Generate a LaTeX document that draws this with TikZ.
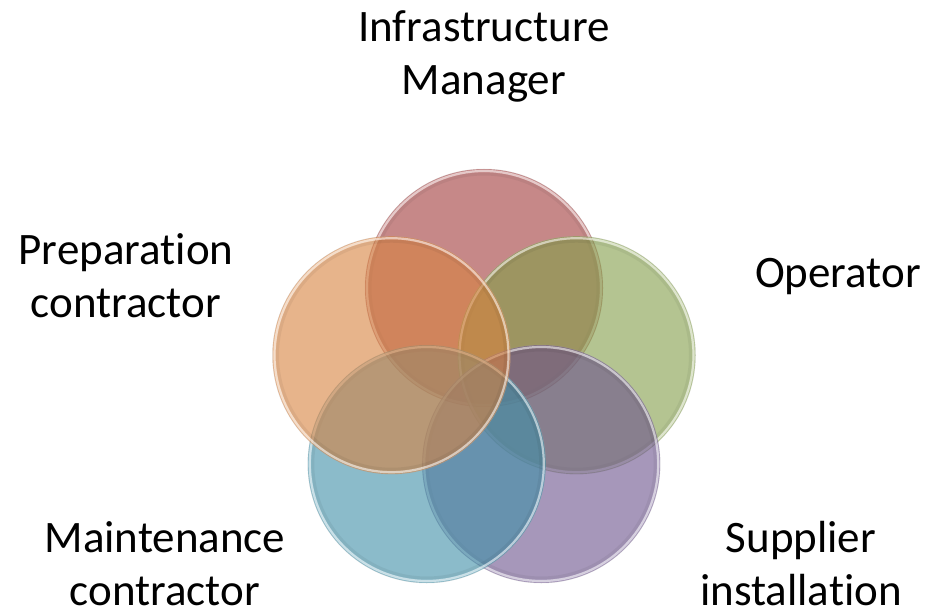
\documentclass[tikz,border=0pt]{standalone}
\usepackage{fontspec}
\setmainfont{Carlito}[Ligatures=NoCommon]
\begin{document}
\begin{tikzpicture}[x=1pt,y=-1pt,
  venn/.style={circle, minimum size=238pt, inner sep=0pt, fill=#1, fill opacity=0.6,
    draw=black!30, draw opacity=0.3, line width=0.5pt},
  rim/.style={draw=white, draw opacity=0.55, line width=2.2pt},
  shade/.style={draw=black, draw opacity=0.05, line width=3pt},
  lbl/.style={align=center, font=\fontsize{45}{53}\selectfont, inner sep=0pt, anchor=base, text=black}]
\definecolor{cRed}{RGB}{160,58,58}
\definecolor{cGreen}{RGB}{130,158,72}
\definecolor{cPurple}{RGB}{107,82,140}
\definecolor{cBlue}{RGB}{62,143,167}
\definecolor{cOrange}{RGB}{215,130,63}
\useasboundingbox (0,0) rectangle (932,615);
\fill[white] (0,0) rectangle (932,615);
% circles
\node[venn=cRed] (im) at (484,288) {};
\draw[shade] (im.center) circle[radius=114pt];
\draw[rim] (im.center) circle[radius=117pt];
\node[venn=cGreen] (op) at (576.5,355.2) {};
\draw[shade] (op.center) circle[radius=114pt];
\draw[rim] (op.center) circle[radius=117pt];
\node[venn=cPurple] (si) at (541.2,464) {};
\draw[shade] (si.center) circle[radius=114pt];
\draw[rim] (si.center) circle[radius=117pt];
\node[venn=cBlue] (mc) at (426.8,464) {};
\draw[shade] (mc.center) circle[radius=114pt];
\draw[rim] (mc.center) circle[radius=117pt];
\node[venn=cOrange] (pc) at (391.5,355.2) {};
\draw[shade] (pc.center) circle[radius=114pt];
\draw[rim] (pc.center) circle[radius=117pt];
% labels (base anchor = baseline of last line)
\node[lbl] (tim) at (484,95) {Infrastructure\\Manager};
\node[lbl] (tpc) at (126,317) {Preparation\\contractor};
\node[lbl] (top) at (838,287) {Operator};
\node[lbl, text depth=0pt] (tmc) at (165,605) {Maintenance\\contractor};
\node[lbl, text depth=0pt] (tsi) at (801,605) {Supplier\\installation};
\end{tikzpicture}
\end{document}
